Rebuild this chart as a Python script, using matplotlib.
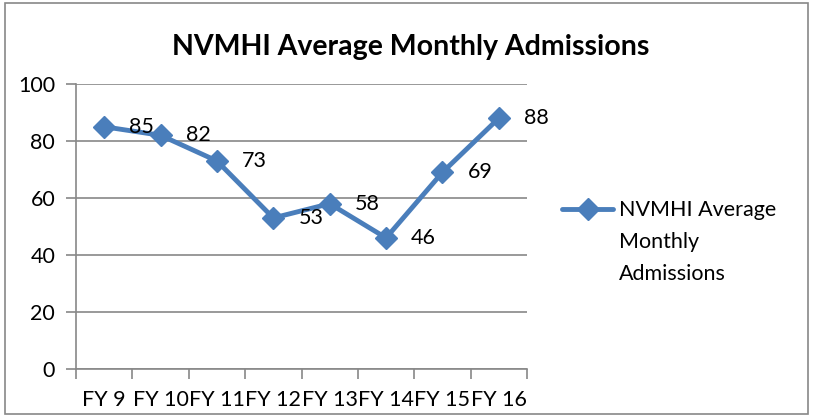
import matplotlib
matplotlib.use("Agg")
import matplotlib.pyplot as plt
from matplotlib.patches import Rectangle
from matplotlib.lines import Line2D

categories = ["FY 9", "FY 10", "FY 11", "FY 12", "FY 13", "FY 14", "FY 15", "FY 16"]
values = [85, 82, 73, 53, 58, 46, 69, 88]
series_name = "NVMHI Average Monthly Admissions"
legend_lines = ["NVMHI Average", "Monthly", "Admissions"]
yticks = [0, 20, 40, 60, 80, 100]

W, H = 813, 417
fig = plt.figure(figsize=(W / 100, H / 100), dpi=100)
plt.rcParams['font.family'] = ['Lato', 'DejaVu Sans']

def fx(px): return px / W
def fy(py): return 1 - py / H

FS = 15.5
ax = fig.add_axes([fx(76), fy(369), fx(527) - fx(76), fy(84) - fy(369)])
color = "#4A7EBB"
grid_c = "#888888"
x = list(range(len(categories)))
line_kw = dict(color=color, lw=3.5, marker="D", ms=11, mec=color, mfc=color,
               solid_capstyle="round")
ax.plot(x, values, zorder=3, **line_kw)
for xi, v in zip(x, values):
    ax.annotate(str(v), (xi, v), xytext=(25, 0), textcoords="offset pixels",
                ha="left", va="center", fontsize=FS, color="black", zorder=4)

ax.set_xlim(-0.5, len(categories) - 0.5)
ax.set_ylim(0, 100)
ax.set_yticks(yticks)
ax.set_yticklabels([str(t) for t in yticks], fontsize=FS)
ax.yaxis.grid(True, color=grid_c, lw=1.2)
ax.set_axisbelow(True)
ax.tick_params(axis="y", length=7, width=1.2, color=grid_c, pad=8)
ax.set_xticks([i - 0.5 for i in range(len(categories) + 1)])
ax.set_xticklabels([])
ax.set_xticks(x, minor=True)
ax.set_xticklabels(categories, minor=True, fontsize=FS)
ax.tick_params(axis="x", which="major", length=7, width=1.2, color=grid_c)
ax.tick_params(axis="x", which="minor", length=0, pad=15)
for s in ["top", "right"]:
    ax.spines[s].set_visible(False)
for s in ["left", "bottom"]:
    ax.spines[s].set_color(grid_c)
    ax.spines[s].set_linewidth(1.2)

fig.text(fx(411), fy(55), series_name, ha="center", va="baseline",
         fontsize=20.5, fontweight="bold")

# legend (handle aligned with first line of wrapped label, as in the original)
fig.add_artist(Line2D([fx(562), fx(613)], [fy(209), fy(209)], transform=fig.transFigure,
                      color=color, lw=3.5, solid_capstyle="round"))
fig.add_artist(Line2D([fx(587.5)], [fy(209)], transform=fig.transFigure, color=color,
                      marker="D", ms=11, mec=color, mfc=color, lw=0))
for i, txt in enumerate(legend_lines):
    fig.text(fx(619), fy(216.5 + 31.7 * i), txt, ha="left", va="baseline", fontsize=FS)

fig.patches.append(Rectangle((fx(5), fy(414)), fx(808) - fx(5), fy(3) - fy(414),
                             transform=fig.transFigure, fill=False, ec="#888888", lw=1.2))
fig.savefig("out.png", dpi=100)
